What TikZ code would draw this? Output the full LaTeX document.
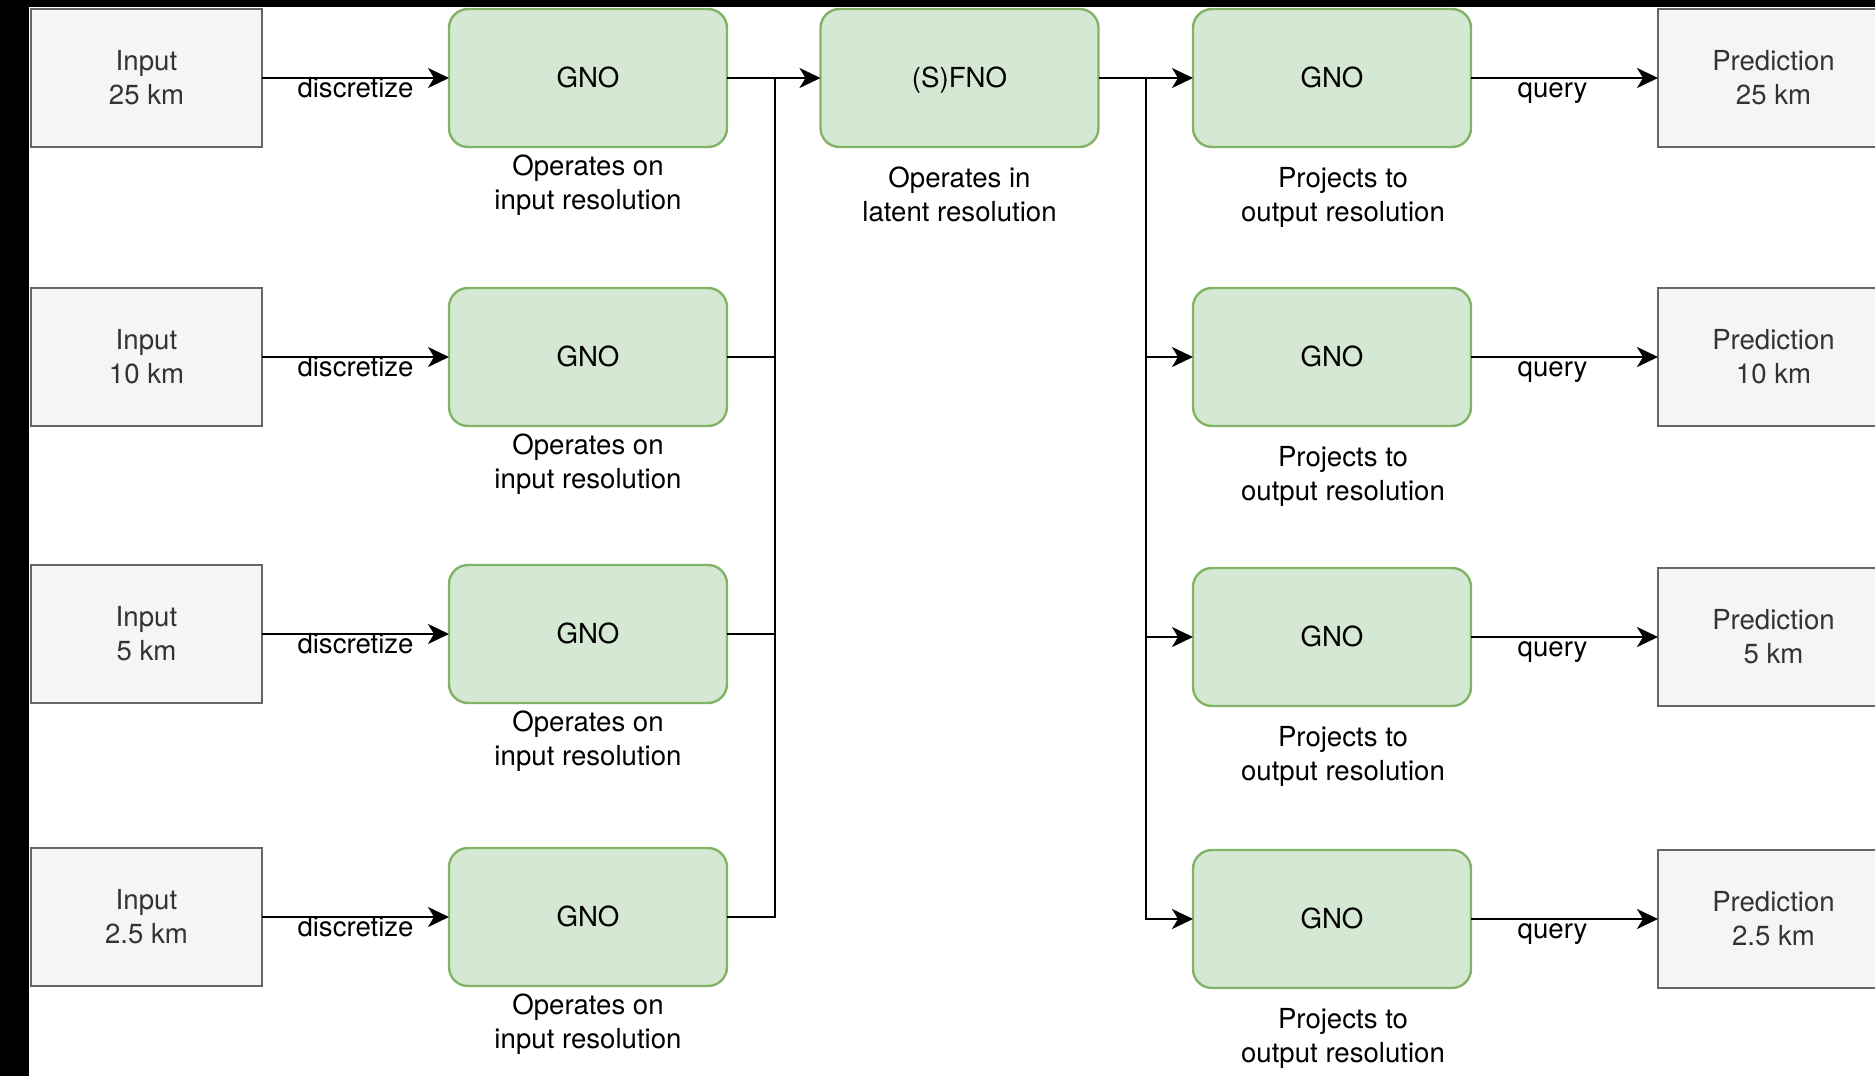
\documentclass[tikz,border=0pt]{standalone}
\usepackage{fontspec}
\setmainfont{TeX Gyre Heros}
\usetikzlibrary{arrows.meta}

\definecolor{iofill}{HTML}{F5F5F5}
\definecolor{iodraw}{HTML}{666666}
\definecolor{iotext}{HTML}{333333}
\definecolor{opfill}{HTML}{D5E8D4}
\definecolor{opdraw}{HTML}{82B366}

% two centred lines whose baseline is the first line's
\newcommand{\twolines}[2]{\begin{tabular}[t]{@{}c@{}}#1\\#2\end{tabular}}

\begin{document}
\begin{tikzpicture}[x=1pt,y=-1pt,
  every node/.style={font=\fontsize{27.6}{34.5}\selectfont, inner sep=0pt, outer sep=0pt},
  iobox/.style={draw=iodraw, fill=iofill, text=iotext, line width=2.4pt,
                minimum width=231pt, minimum height=138pt,
                text height=24.15pt, text depth=40.15pt},
  opbox/.style={draw=opdraw, fill=opfill, line width=2.4pt, rounded corners=19pt,
                minimum width=278pt, minimum height=138pt,
                text height=18pt, text depth=0pt},
  caption/.style={anchor=base},
  edgelabel/.style={anchor=base, yshift=-19pt},
  link/.style={line width=2.4pt, draw=black},
  flow/.style={link, -{Stealth[length=21pt,width=20pt,inset=6pt]}},
]
\clip (0,0) rectangle (1875,1076);
\useasboundingbox (0,0) rectangle (1875,1076);

% frame strips
\fill[black] (0,0) rectangle (29,1076);
\fill[black] (0,0) rectangle (1875,7);

% junction columns
\coordinate (jl) at (775,0);
\coordinate (jr) at (1146,0);

% inputs and input-side GNOs
\foreach \i/\y/\res in {1/78/25 km, 2/357/10 km, 3/634/5 km, 4/917/2.5 km}{
  \node[iobox] (in\i) at (146.5,\y) {\twolines{Input}{\res}};
  \node[opbox] (gl\i) at (588,\y) {GNO};
  \node[caption] (cl\i) at (588,\y+97) {\twolines{Operates on}{input resolution}};
  \draw[flow] (in\i.east) -- node[edgelabel] {discretize} (gl\i.west);
}

% latent operator
\node[opbox] (fno) at (959.5,78) {(S)FNO};
\node[caption] (cf) at (959.5,187) {\twolines{Operates in}{latent resolution}};

% output-side GNOs and predictions
\foreach \i/\y/\res in {1/78/25 km, 2/357/10 km, 3/637/5 km, 4/919/2.5 km}{
  \node[opbox] (gr\i) at (1332,\y) {GNO};
  \node[caption] (cr\i) at (1343,\y+109) {\twolines{Projects to}{output resolution}};
  \node[iobox] (pr\i) at (1773.5,\y) {\twolines{Prediction}{\res}};
  \draw[flow] (gr\i.east) -- node[edgelabel, xshift=-12pt] {query} (pr\i.west);
}

% encoders merge into the latent operator
\draw[flow] (gl1.east) -- (fno.west);
\foreach \i in {2,3,4}{
  \draw[link] (gl\i.east) -| (jl |- fno.west);
}

% latent operator fans out to the decoders
\draw[flow] (fno.east) -- (gr1.west);
\foreach \i in {2,3,4}{
  \draw[flow] (fno.east) -| (jr |- gr\i.west) -- (gr\i.west);
}
\end{tikzpicture}
\end{document}
